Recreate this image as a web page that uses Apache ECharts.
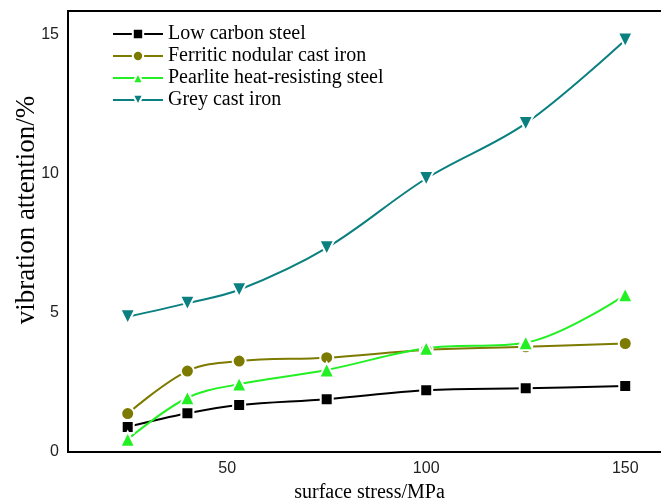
<!DOCTYPE html>
<html>
<head>
<meta charset="utf-8">
<script src="https://cdn.jsdelivr.net/npm/echarts@6/dist/echarts.min.js"></script>
<style>
  html, body { margin: 0; padding: 0; background: #fff; }
  #main { width: 661px; height: 503px; }
</style>
</head>
<body>
<div id="main"></div>
<script>
// data
const stress = [25, 40, 53, 75, 100, 125, 150];
const lowCarbon = [0.9, 1.39, 1.69, 1.9, 2.22, 2.29, 2.37];
const ferritic = [1.38, 2.91, 3.27, 3.39, 3.67, 3.78, 3.9];
const pearlite = [0.46, 1.95, 2.44, 2.95, 3.73, 3.93, 5.65];
const greyIron = [4.86, 5.35, 5.83, 7.34, 9.83, 11.81, 14.81];
const names = ['Low carbon steel', 'Ferritic nodular cast iron', 'Pearlite heat-resisting steel', 'Grey cast iron'];
const xTicks = [50, 100, 150];
const yTicks = [0, 5, 10, 15];

const serif = '"Liberation Serif", "Times New Roman", serif';
const sans = '"Liberation Sans", Arial, sans-serif';

function pairs(ys) {
    return stress.map((x, i) => [x, ys[i]]);
}

function makeSeries(name, ys, color, symbol, size, rotate) {
    return {
        name: name,
        type: 'line',
        data: pairs(ys),
        smooth: 0.35,
        symbol: symbol,
        symbolSize: size,
        symbolRotate: rotate || 0,
        showAllSymbol: true,
        lineStyle: { color: color, width: 2 },
        itemStyle: { color: color, borderColor: '#fff', borderWidth: 2 },
        emphasis: { disabled: true }
    };
}

const myChart = echarts.init(document.getElementById('main'));
const option = {
    animation: false,
    backgroundColor: '#fff',
    grid: {
        left: 68, right: -10, top: 11, bottom: 51,
        outerBoundsMode: 'none',
        containLabel: false,
        show: true, borderColor: '#000', borderWidth: 2, backgroundColor: 'transparent'
    },
    legend: {
        orient: 'vertical',
        left: 112, top: 24,
        padding: 0,
        itemWidth: 50, itemHeight: 13, itemGap: 2,
        textStyle: { fontFamily: serif, fontSize: 20, color: '#000' },
        data: names
    },
    xAxis: {
        type: 'value',
        min: 10, max: 161.5, interval: 10,
        name: 'surface stress/MPa',
        nameLocation: 'middle',
        nameGap: 31,
        nameTextStyle: { fontFamily: serif, fontSize: 20, color: '#000' },
        axisLine: { show: true, lineStyle: { color: '#000', width: 2 } },
        axisTick: { show: false },
        splitLine: { show: false },
        axisLabel: {
            fontFamily: sans, fontSize: 16, color: '#222', margin: 9,
            formatter: v => xTicks.includes(v) ? String(v) : ''
        }
    },
    yAxis: {
        type: 'value',
        min: 0, max: 15.85, interval: 5,
        axisLine: { show: true, lineStyle: { color: '#000', width: 2 } },
        axisTick: { show: false },
        splitLine: { show: false },
        axisLabel: {
            fontFamily: sans, fontSize: 16, color: '#222', margin: 9,
            formatter: v => yTicks.includes(v) ? String(v) : ''
        }
    },
    graphic: [{
        type: 'text',
        x: 27, y: 210,
        rotation: Math.PI / 2,
        style: {
            text: 'vibration attention/%',
            font: '27px ' + serif,
            fill: '#000',
            textAlign: 'center',
            textVerticalAlign: 'middle'
        }
    }],
    series: [
        makeSeries(names[0], lowCarbon, '#000000', 'rect', 12),
        makeSeries(names[1], ferritic, '#7d7a00', 'circle', 13),
        makeSeries(names[2], pearlite, '#22f022', 'triangle', 15),
        makeSeries(names[3], greyIron, '#0a8080', 'triangle', 15, 180)
    ]
};
myChart.setOption(option);
</script>
</body>
</html>
